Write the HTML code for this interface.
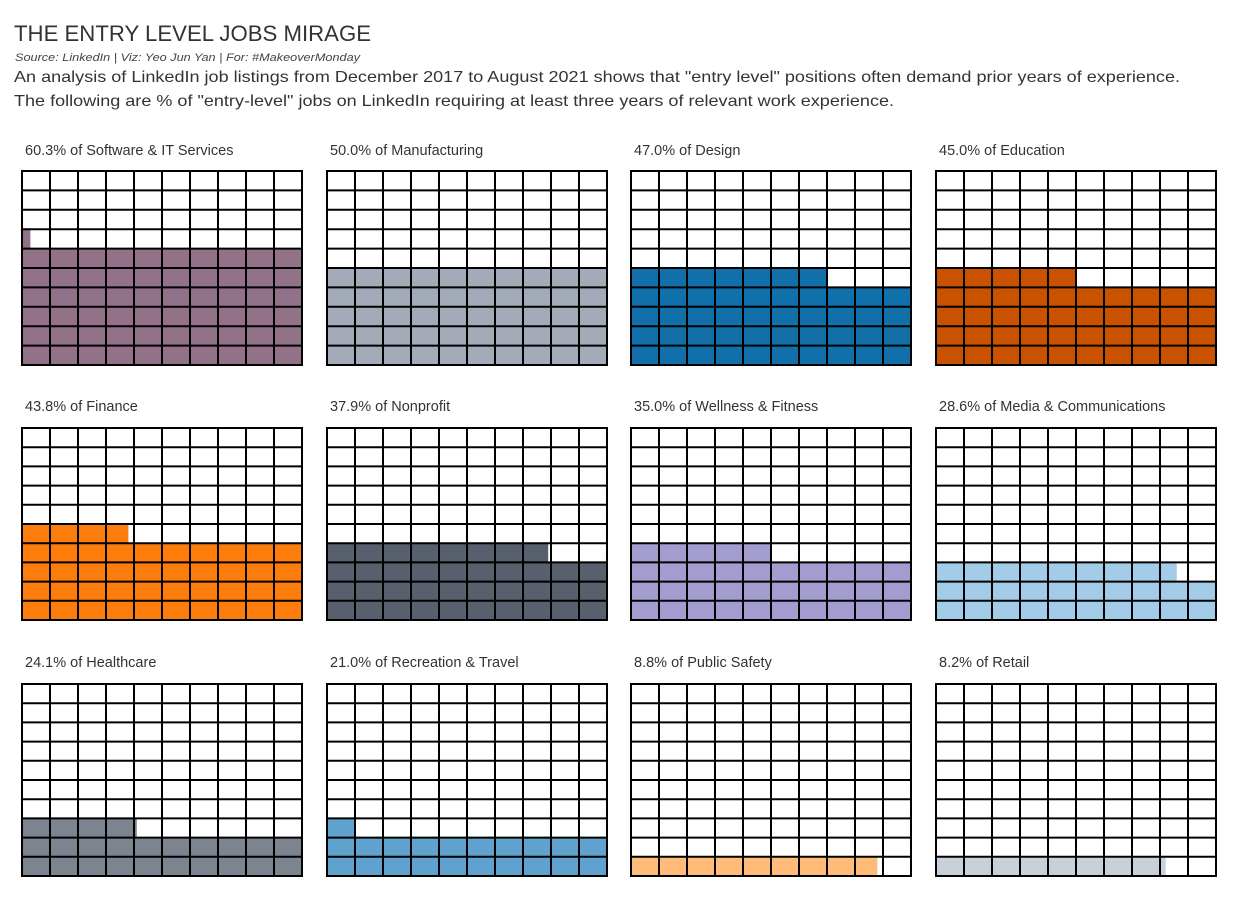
<!DOCTYPE html>
<html><head><meta charset="utf-8">
<style>
html,body{margin:0;padding:0;background:#fff;}
svg{display:block;font-family:"Liberation Sans",sans-serif;}
</style></head>
<body>
<svg id="chart" width="1235" height="899" viewBox="0 0 1235 899">
<text x="14" y="41" font-size="22" fill="#333" textLength="357" lengthAdjust="spacingAndGlyphs">THE ENTRY LEVEL JOBS MIRAGE</text>
<text x="15" y="61" font-size="11" font-style="italic" fill="#444" textLength="345" lengthAdjust="spacingAndGlyphs">Source: LinkedIn | Viz: Yeo Jun Yan | For: #MakeoverMonday</text>
<text x="14" y="82" font-size="16" fill="#333" textLength="1166" lengthAdjust="spacingAndGlyphs">An analysis of LinkedIn job listings from December 2017 to August 2021 shows that "entry level" positions often demand prior years of experience.</text>
<text x="14" y="106" font-size="16" fill="#333" textLength="880" lengthAdjust="spacingAndGlyphs">The following are % of "entry-level" jobs on LinkedIn requiring at least three years of relevant work experience.</text>
<g id="panels"></g>
</svg>
<script>
const industries = ["Software & IT Services","Manufacturing","Design","Education","Finance","Nonprofit","Wellness & Fitness","Media & Communications","Healthcare","Recreation & Travel","Public Safety","Retail"];
const percents = [60.3,50.0,47.0,45.0,43.8,37.9,35.0,28.6,24.1,21.0,8.8,8.2];
const colors = ["#917289","#a2abb7","#1170aa","#c85200","#fc7d0b","#57606c","#a39dcf","#a3cce9","#7b848f","#5fa2ce","#ffbc79","#c8d0d9"];

const NS = "http://www.w3.org/2000/svg";
const g = document.getElementById("panels");
const colX = [22,327,631,936];
const rowY = [171,428,684];
const rowH = [194,192,192];
const W = 280;
function mk(tag, attrs){const e=document.createElementNS(NS,tag);for(const k in attrs)e.setAttribute(k,attrs[k]);return e;}
industries.forEach((name,i)=>{
  const ri = Math.floor(i/4);
  const px = colX[i%4], py = rowY[ri], H = rowH[ri];
  const cw = W/10, ch = H/10;
  const panel = mk("g",{});
  
  
  const t = mk("text",{x:px+3,y:py-16-(ri>0?1:0),"font-size":"14.5",fill:"#333"});
  t.textContent = percents[i].toFixed(1)+"% of "+name;
  
  
  panel.appendChild(t);
  panel.appendChild(mk("rect",{x:px,y:py,width:W,height:H,fill:"#fff"}));
  for(let k=0;k<100;k++){
    const frac = Math.max(0,Math.min(1,percents[i]-k));
    if(frac<=0) continue;
    const r = Math.floor(k/10), c = k%10;
    const cell = mk("rect",{x:px+c*cw,y:py+H-(r+1)*ch,width:cw*frac,height:ch,fill:colors[i]});
    
    
    panel.appendChild(cell);
  }
  for(let c=0;c<=10;c++){
    panel.appendChild(mk("line",{x1:px+c*cw,y1:py,x2:px+c*cw,y2:py+H,stroke:"#000","stroke-width":2}));
  }
  for(let r=0;r<=10;r++){
    panel.appendChild(mk("line",{x1:px-1,y1:py+r*ch,x2:px+W+1,y2:py+r*ch,stroke:"#000","stroke-width":2}));
  }
  g.appendChild(panel);
});
</script>
</body></html>
